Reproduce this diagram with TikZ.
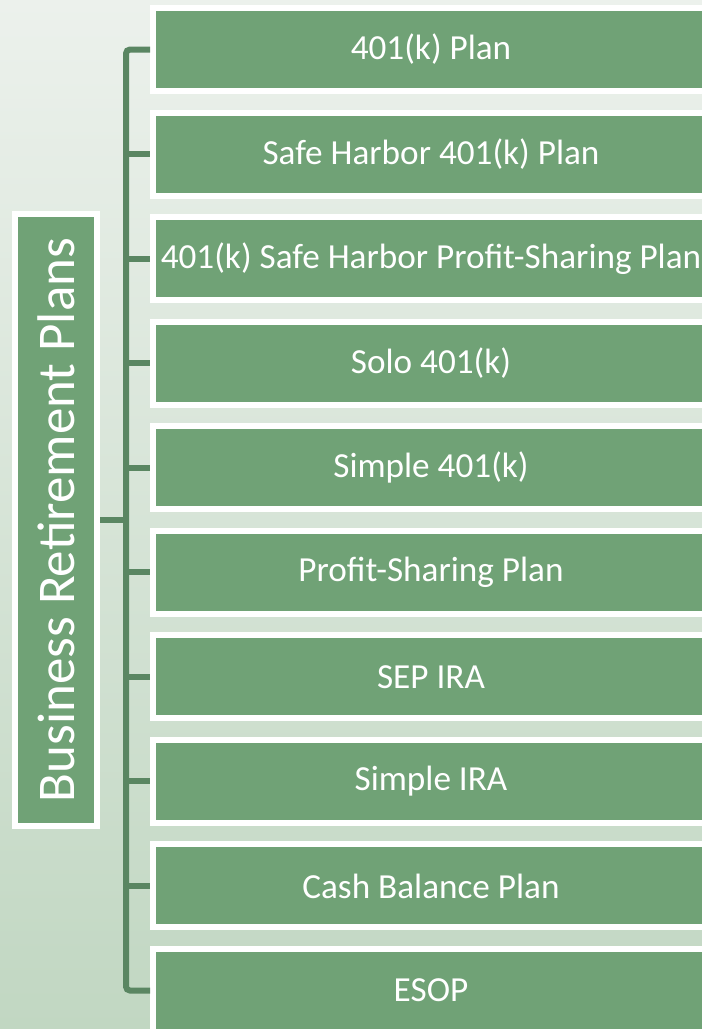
\documentclass[tikz,border=0pt]{standalone}
\usepackage{graphicx}
\usepackage{fontspec}
\setmainfont{Carlito}
\usetikzlibrary{calc}
\definecolor{planfill}{HTML}{70A276}
\definecolor{planline}{HTML}{5A8662}
\definecolor{bgtop}{HTML}{ECF1EC}
\definecolor{bgbot}{HTML}{C1D7C2}
\tikzset{
  planbox/.style={draw=white,line width=6pt,fill=planfill,text=white,inner sep=0pt,
    minimum width=556pt,minimum height=83pt,font=\fontsize{35.2}{40}\selectfont},
  rootbox/.style={draw=white,line width=6pt,fill=planfill,text=white,inner sep=0pt,
    minimum width=82pt,minimum height=612pt,font=\fontsize{53}{60}\selectfont},
  tree/.style={draw=planline,line width=6pt}
}

\begin{document}
\begin{tikzpicture}[x=1pt,y=-1pt]
    \shade[top color=bgtop,bottom color=bgbot] (0,0) rectangle (702,1029);
    \useasboundingbox (0,0) rectangle (702,1029);
    % plan boxes
    \foreach \lbl [count=\i] in {401(k) Plan,Safe Harbor 401(k) Plan,401(k) Safe Harbor Profit-Sharing Plan,Solo 401(k),Simple 401(k),Profit-Sharing Plan,SEP IRA,Simple IRA,Cash Balance Plan,ESOP}
    {
      \node[planbox] (plan\i) at (431,{49.5+104.56*(\i-1)}) {\lbl};
    }
    \node[rootbox] (root) at (56,520) {\rotatebox{90}{Business Retirement Plans}};
    \coordinate (trunk) at (126,0);
    \begin{scope}[tree]
      \draw[rounded corners=4pt] (plan1.west) -| (trunk |- plan10.west) -- (plan10.west);
      \foreach \i in {2,...,9}
      {
        \draw (trunk |- plan\i.west) -- (plan\i.west);
      }
      \draw (root.east) -- (trunk |- root.east);
    \end{scope}
  \end{tikzpicture}
\end{document}
